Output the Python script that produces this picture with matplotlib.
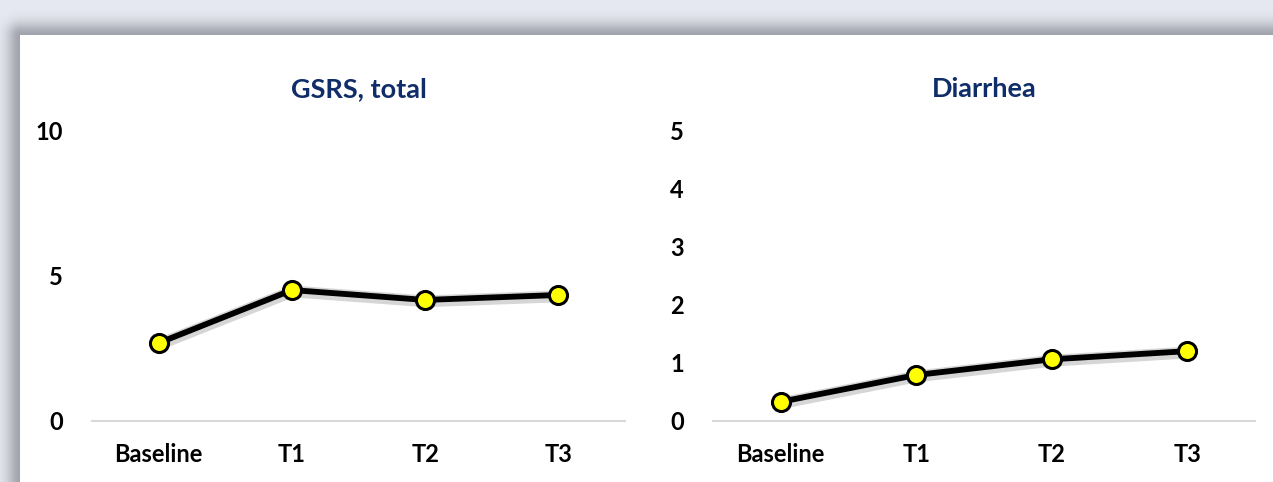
import numpy as np
import matplotlib
matplotlib.use("Agg")
import matplotlib.pyplot as plt
from matplotlib import patheffects as pe

categories = ["Baseline", "T1", "T2", "T3"]
gsrs_total = [2.68, 4.50, 4.16, 4.33]
diarrhea = [0.33, 0.79, 1.06, 1.20]
titles = ["GSRS, total", "Diarrhea"]
gsrs_ticks = [0, 5, 10]
diarrhea_ticks = [0, 1, 2, 3, 4, 5]

W, H = 1273, 482
fig = plt.figure(figsize=(W / 100, H / 100), dpi=100)
fig.patch.set_facecolor("#E6E9F1")

# background with card shadow
bg = np.ones((H, W, 3)) * np.array([0xE6, 0xE9, 0xF1]) / 255.0
yy, xx = np.mgrid[0:H, 0:W]
card_top, card_left = 35, 20
dy = np.clip(card_top - yy, 0, None)
dx = np.clip(card_left - xx, 0, None)
d = np.sqrt(dx ** 2 + dy ** 2)
shade = np.exp(-(d / 13.0) ** 2) * 0.55
bg = bg * (1 - shade[..., None]) + np.array([0.42, 0.42, 0.46]) * shade[..., None]
inside = (yy >= card_top) & (xx >= card_left)
bg[inside] = 1.0
bgax = fig.add_axes([0, 0, 1, 1])
bgax.imshow(bg, aspect="auto", extent=[0, 1, 0, 1], origin="upper")
bgax.axis("off")

font = "Lato"
title_color = "#0F2D69"

def make(ax, vals, ticks, title):
    x = np.arange(len(categories))
    ax.plot(x, vals, color="black", lw=4.2, solid_capstyle="round", zorder=3,
            path_effects=[pe.SimpleLineShadow(offset=(0.3, -1.0), shadow_color="#999999", alpha=0.4, linewidth=8.5),
                          pe.Normal()])
    ax.plot(x, vals, ls="none", marker="o", ms=13, mfc="#FFFF00", mec="black", mew=2.2, zorder=4)
    ax.set_xlim(-0.5, len(categories) - 0.5)
    ax.set_ylim(ticks[0], ticks[-1])
    ax.set_yticks(ticks)
    ax.set_yticklabels([str(t) for t in ticks])
    ax.set_xticks(x)
    ax.set_xticklabels(categories)
    for s in ["top", "right", "left"]:
        ax.spines[s].set_visible(False)
    ax.spines["bottom"].set_color("#D9D9D9")
    ax.spines["bottom"].set_linewidth(1.5)
    ax.tick_params(axis="both", length=0, labelsize=17)
    ax.tick_params(axis="y", pad=21)
    ax.tick_params(axis="x", pad=16)
    for lab in ax.get_xticklabels() + ax.get_yticklabels():
        lab.set_fontfamily(font)
        lab.set_fontweight("bold")
        lab.set_color("black")
    ax.set_facecolor("none")
    ax.set_title(title, fontfamily=font, fontweight="bold", fontsize=19.5, color=title_color, pad=24)

ax1 = fig.add_axes([92 / W, 1 - 421 / H, (625 - 92) / W, (421 - 130) / H])
ax2 = fig.add_axes([713 / W, 1 - 421 / H, (1255 - 713) / W, (421 - 130) / H])
make(ax1, gsrs_total, gsrs_ticks, titles[0])
make(ax2, diarrhea, diarrhea_ticks, titles[1])
for ax in (ax1, ax2):
    for l in ax.lines:
        l.set_clip_on(False)

fig.savefig("out.png", dpi=100)
